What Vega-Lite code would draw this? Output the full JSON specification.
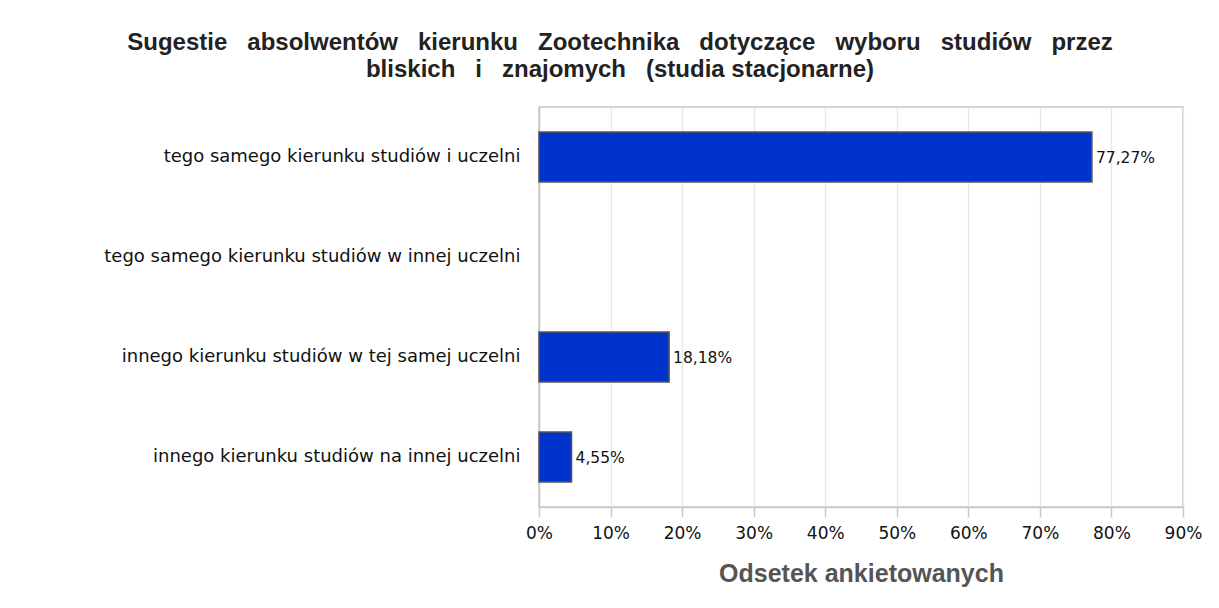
{
  "$schema": "https://vega.github.io/schema/vega-lite/v6.json",
  "autosize": {"type": "none"},
  "padding": {"left": 539, "top": 107, "right": 36, "bottom": 101},
  "width": 644,
  "height": 400,
  "background": "white",
  "title": {
    "text": ["Sugestie\u00a0\u00a0 absolwentów\u00a0\u00a0 kierunku\u00a0\u00a0 Zootechnika\u00a0\u00a0 dotyczące\u00a0\u00a0 wyboru\u00a0\u00a0 studiów\u00a0\u00a0 przez", "bliskich\u00a0\u00a0 i\u00a0\u00a0 znajomych\u00a0\u00a0 (studia stacjonarne)"],
    "font": "Liberation Sans",
    "fontSize": 24,
    "fontWeight": "bold",
    "color": "#222222",
    "lineHeight": 27,
    "anchor": "middle",
    "frame": "group",
    "dx": -241,
    "offset": 25
  },
  "data": {
    "values": [
      {"kategoria": "tego samego kierunku studiów i uczelni", "value": 0.7727},
      {"kategoria": "tego samego kierunku studiów w innej uczelni", "value": 0},
      {"kategoria": "innego kierunku studiów w tej samej uczelni", "value": 0.1818},
      {"kategoria": "innego kierunku studiów na innej uczelni", "value": 0.0455}
    ]
  },
  "encoding": {
    "y": {
      "field": "kategoria",
      "type": "nominal",
      "sort": null,
      "scale": {"paddingInner": 0.5, "paddingOuter": 0.25},
      "axis": {
        "title": null,
        "ticks": false,
        "labelPadding": 19,
        "labelFont": "DejaVu Sans",
        "labelFontSize": 18,
        "labelColor": "#111111",
        "labelLimit": 600,
        "domainColor": "#c8c8c8",
        "domainWidth": 1.5,
        "grid": false
      }
    },
    "x": {
      "field": "value",
      "type": "quantitative",
      "scale": {"domain": [0, 0.9], "nice": false},
      "axis": {
        "title": "Odsetek ankietowanych",
        "titleFont": "Liberation Sans",
        "titleFontSize": 25,
        "titleFontWeight": "bold",
        "titleColor": "#555555",
        "titlePadding": 20,
        "format": ".0%",
        "values": [0, 0.1, 0.2, 0.3, 0.4, 0.5, 0.6, 0.7, 0.8, 0.9],
        "labelFont": "DejaVu Sans",
        "labelFontSize": 17,
        "labelColor": "#111111",
        "labelPadding": 8,
        "labelFlush": false,
        "tickSize": 10,
        "tickColor": "#c8c8c8",
        "tickWidth": 1.5,
        "domainColor": "#c8c8c8",
        "domainWidth": 1.5,
        "grid": true,
        "gridColor": "#e6e6e6",
        "gridWidth": 1.2
      }
    }
  },
  "layer": [
    {
      "mark": {"type": "bar", "color": "#0033cc", "stroke": "#555555", "strokeWidth": 1.5},
      "encoding": {
        "strokeOpacity": {"condition": {"test": "datum.value > 0", "value": 1}, "value": 0}
      }
    },
    {
      "transform": [{"filter": "datum.value > 0"}],
      "mark": {"type": "text", "align": "left", "baseline": "middle", "dx": 4, "dy": 1, "font": "DejaVu Sans", "fontSize": 15.5, "color": "#111111"},
      "encoding": {
        "text": {"field": "value", "type": "quantitative", "format": ".2%"}
      }
    }
  ],
  "config": {
    "locale": {
      "number": {"decimal": ",", "thousands": " ", "grouping": [3], "currency": ["", " zł"]}
    },
    "view": {"stroke": "#c8c8c8", "strokeWidth": 1.5}
  }
}
